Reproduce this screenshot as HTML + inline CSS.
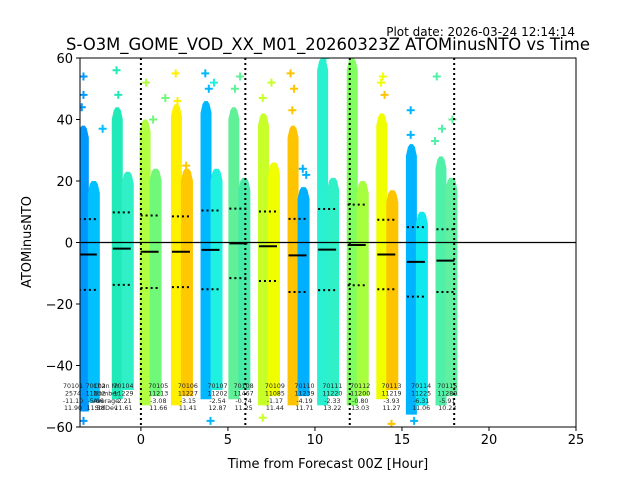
<!DOCTYPE html>
<html><head><meta charset="utf-8"><style>
body{margin:0;background:#fff}
svg{display:block;font-family:"DejaVu Sans","Liberation Sans",sans-serif}
</style></head><body>
<svg id="chart" width="640" height="480">
<rect width="640" height="480" fill="#fff"/>
<text x="575" y="36" font-size="12" text-anchor="end">Plot date: 2026-03-24 12:14:14</text>
<text x="328" y="50" font-size="16.4" text-anchor="middle">S-O3M_GOME_VOD_XX_M01_20260323Z ATOMinusNTO vs Time</text>
<g id="plot"></g>
<text x="328" y="468" font-size="13" text-anchor="middle">Time from Forecast 00Z [Hour]</text>
<text x="31" y="242" font-size="13" text-anchor="middle" transform="rotate(-90 31 242)">ATOMinusNTO</text>
</svg>
<script>
const channels=["70101","70102","70103","70104","70105","70106","70107","70108","70109","70110","70111","70112","70113","70114","70115"];
const counts=["2574","11232","11203","11229","11213","11227","11202","11467","11085","11239","11220","11200","11219","11225","11280"];
const avgLabels=["-11.10","-5.06","-2.00","-2.21","-3.08","-3.15","-2.54","-0.74","-1.17","-4.19","-2.33","-0.80","-3.93","-6.31","-5.91"];
const stdLabels=["11.90","11.58","11.58","11.61","11.66","11.41","12.87","11.25","11.44","11.71","13.22","13.03","11.27","11.06","10.23"];
const labelHours=[-3.9,-2.6,-1.4,-1.0,1.0,2.7,4.4,5.9,7.7,9.4,11.0,12.6,14.4,16.1,17.6];
const groupHours=[-3.05,-1.1,0.5,2.3,4.0,5.6,7.3,9.0,10.7,12.4,14.1,15.8,17.5];
const means=[-3.9,-2.0,-3.0,-3.0,-2.4,-0.3,-1.2,-4.2,-2.3,-0.8,-3.9,-6.3,-5.9];
const stds=[11.5,11.8,11.8,11.5,12.8,11.3,11.3,11.9,13.2,13.1,11.3,11.3,10.2];
const leftTops=[38,44,40,45,46,44,42,38,60,60,42,32,28];
const rightTops=[20,23,24,24,24,21,26,18,21,20,17,10,21];
const bottoms=[-54,-50,-52,-52,-50,-50,-52,-52,-52,-52,-50,-55,-52];
const leftColors=["#0098ff","#20eab8","#b0ff40","#fff000","#00b8ff","#60f098","#c8ff28","#ffc400","#28f0d0","#80ff60","#f0ff00","#00b4ff","#50f0a8"];
const rightColors=["#00c0ff","#30f0c8","#70f878","#ffc800","#20f0e0","#48eaa8","#f0ff00","#00b0ff","#30f0c8","#a8ff40","#ffc400","#10e8f0","#60f0a0"];
const outX=[-3.3,-3.3,-3.4,-2.2,-1.4,-1.3,0.3,0.7,1.4,2.0,2.1,2.6,3.7,4.2,3.9,5.7,5.4,7.5,7.0,8.6,8.8,8.7,9.3,9.5,10.6,13.9,14.0,13.8,15.5,15.5,17.0,17.3,17.9,16.9,-3.3,4.0,15.7,14.4,7.0];
const outY=[54,48,44,37,56,48,52,40,47,55,46,25,55,52,50,54,50,52,47,55,50,43,24,22,60,54,48,52,43,35,54,37,40,33,-58,-58,-58,-59,-57];
const outC=["#0098ff","#0098ff","#0098ff","#00c0ff","#20eab8","#20eab8","#b0ff40","#70f878","#70f878","#fff000","#fff000","#ffc800","#00b8ff","#20f0e0","#00b8ff","#60f098","#60f098","#c8ff28","#c8ff28","#ffc400","#ffc400","#ffc400","#00b0ff","#00b0ff","#28f0d0","#f0ff00","#ffc400","#f0ff00","#00b4ff","#00b4ff","#50f0a8","#50f0a8","#60f0a0","#50f0a8","#0098ff","#00b8ff","#00b4ff","#ffc400","#c8ff28"];
const xTicks=[0,5,10,15,20,25];
const yTicks=[-60,-40,-20,0,20,40,60];
const vLines=[0,6,12,18];

const L=80,R=576,T=58,B=427,x0=-3.5,x1=25,y0=-60,y1=60;
const X=v=>L+(v-x0)/(x1-x0)*(R-L);
const Y=v=>B-(v-y0)/(y1-y0)*(B-T);
const NS="http://www.w3.org/2000/svg";
const g=document.getElementById('plot');
function mk(t,a,p){const e=document.createElementNS(NS,t);for(const k in a)e.setAttribute(k,a[k]);(p||g).appendChild(e);return e;}
const clip=mk('clipPath',{id:'clip'});mk('rect',{x:L,y:T,width:R-L,height:B-T},clip);
const data=mk('g',{'clip-path':'url(#clip)'});
const hw=5.5;
function col(xl,xr,top,bot,color,name){
 const ty=Y(top),by=Y(bot);
 const pts=[[xl,by+3],[xl,ty+12],[xl+2,ty+3],[xl+4,ty],[xr-4,ty],[xr-2,ty+3],[xr,ty+12],[xr,by+3]];
 const p=mk('polygon',{points:pts.map(q=>q.join(',')).join(' '),fill:color},data);
 
 
}
groupHours.forEach((h,i)=>{
 const c=X(h);
 col(c-hw*2+1,c+1,leftTops[i],bottoms[i],leftColors[i],'series-left-'+channels[i+2]);
 col(c,c+hw*2+1,rightTops[i],bottoms[i]+3,rightColors[i],'series-right-'+channels[i+2]);
});
outX.forEach((h,i)=>{
 const cx=X(h),cy=Y(outY[i]);
 const p=mk('path',{d:`M${cx-4} ${cy}H${cx+4}M${cx} ${cy-4}V${cy+4}`,stroke:outC[i],'stroke-width':2},data);
 
 
});
mk('line',{x1:L,x2:R,y1:Y(0),y2:Y(0),stroke:'#000','stroke-width':1.2},data);
vLines.forEach(v=>{const l=mk('line',{x1:X(v),x2:X(v),y1:T,y2:B,stroke:'#000','stroke-width':2,'stroke-dasharray':'2,3'},data);
 
 });
groupHours.forEach((h,i)=>{
 const c=X(h);
 const m=mk('line',{x1:c-9,x2:c+9,y1:Y(means[i]),y2:Y(means[i]),stroke:'#000','stroke-width':2},data);
 
 
 [means[i]+stds[i],means[i]-stds[i]].forEach(v=>{
  const s=mk('line',{x1:c-9,x2:c+9,y1:Y(v),y2:Y(v),stroke:'#000','stroke-width':2,'stroke-dasharray':'2,3'},data);
  
  
 });
});
const lab=mk('g',{'font-size':'6.3','text-anchor':'middle',fill:'#222'});


['Chan Nr','Number','Average','StdDev'].forEach((t,j)=>{mk('text',{x:X(-2.0),y:388+j*7.4},lab).textContent=t;});
channels.forEach((c,i)=>{
 if(i===2) return;
 const x=X(labelHours[i]);
 [c,counts[i],avgLabels[i],stdLabels[i]].forEach((t,j)=>{mk('text',{x:x,y:388+j*7.4},lab).textContent=t;});
});
mk('rect',{x:L,y:T,width:R-L,height:B-T,fill:'none',stroke:'#000','stroke-width':1});
xTicks.forEach(v=>{mk('line',{x1:X(v),x2:X(v),y1:B,y2:B+4,stroke:'#000'});
 const t=mk('text',{x:X(v),y:B+17,'font-size':'13','text-anchor':'middle'});t.textContent=v;
 });
yTicks.forEach(v=>{mk('line',{x1:L-4,x2:L,y1:Y(v),y2:Y(v),stroke:'#000'});
 const t=mk('text',{x:L-7,y:Y(v)+5,'font-size':'13','text-anchor':'end'});t.textContent=(v<0?'\u2212'+(-v):v);
 });
</script>
</body></html>
